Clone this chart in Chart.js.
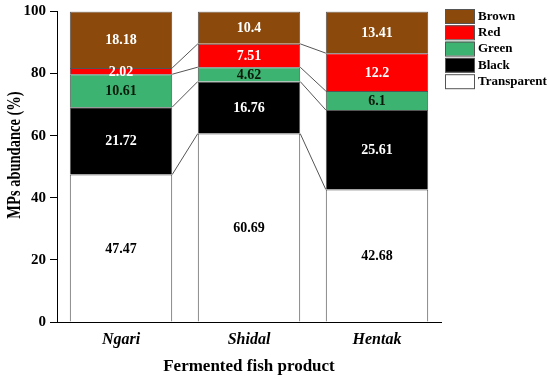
<!DOCTYPE html>
<html>
<head>
<meta charset="utf-8">
<script src="https://cdn.jsdelivr.net/npm/chart.js@4"></script>
<style>
  html, body { margin: 0; padding: 0; background: #fff; }
  #wrap { width: 550px; height: 377px; }
</style>
</head>
<body>
<div id="wrap"><canvas id="myChart" width="550" height="377"></canvas></div>
<script>
const labels = ['Ngari', 'Shidal', 'Hentak'];
const transparent = [47.47, 60.69, 42.68];
const black = [21.72, 16.76, 25.61];
const green = [10.61, 4.62, 6.1];
const red = [2.02, 7.51, 12.2];
const brown = [18.18, 10.4, 13.41];
const yTicks = [0, 20, 40, 60, 80, 100];

const FONT = "'Liberation Serif', 'Times New Roman', serif";

const data = {
    labels: labels,
    datasets: [
        { label: 'Transparent', data: transparent, backgroundColor: '#ffffff', textColor: '#000000' },
        { label: 'Black', data: black, backgroundColor: '#000000', textColor: '#ffffff' },
        { label: 'Green', data: green, backgroundColor: '#3cb371', textColor: '#0a1a0a' },
        { label: 'Red', data: red, backgroundColor: '#ff0000', textColor: '#ffffff' },
        { label: 'Brown', data: brown, backgroundColor: '#8b4a0c', textColor: '#ffffff' },
    ]
};

// lines joining matching segment tops between neighbouring bars, value labels, legend
const segmentPlugin = {
    id: 'segments',
    afterDatasetsDraw(chart) {
        const ctx = chart.ctx;
        ctx.save();
        ctx.strokeStyle = '#555555';
        ctx.lineWidth = 1;
        for (let d = 0; d < chart.data.datasets.length - 1; d++) {
            const meta = chart.getDatasetMeta(d);
            for (let i = 0; i < meta.data.length - 1; i++) {
                const a = meta.data[i], b = meta.data[i + 1];
                ctx.beginPath();
                ctx.moveTo(a.x + a.width / 2, a.y);
                ctx.lineTo(b.x - b.width / 2, b.y);
                ctx.stroke();
            }
        }
        ctx.font = 'bold 14px ' + FONT;
        ctx.textAlign = 'center';
        ctx.textBaseline = 'middle';
        chart.data.datasets.forEach((ds, d) => {
            const meta = chart.getDatasetMeta(d);
            meta.data.forEach((bar, i) => {
                ctx.fillStyle = ds.textColor;
                ctx.fillText(String(ds.data[i]), bar.x, (bar.y + bar.base) / 2 + 1);
            });
        });
        ctx.restore();
    },
    afterDraw(chart) {
        const ctx = chart.ctx;
        ctx.save();
        // legend
        ctx.font = 'bold 13px ' + FONT;
        ctx.textBaseline = 'middle';
        ctx.textAlign = 'left';
        const items = chart.data.datasets.slice().reverse();
        items.forEach((ds, k) => {
            const y = 9 + k * 16.3;
            ctx.fillStyle = ds.backgroundColor;
            ctx.fillRect(445.5, y, 29, 14);
            ctx.strokeStyle = '#555555';
            ctx.lineWidth = 1;
            ctx.strokeRect(445.5, y + 0.5, 29, 14);
            ctx.fillStyle = '#000000';
            ctx.fillText(ds.label, 478, y + 7.5);
        });
        // y axis title (glyphs a bit taller than wide, as in the original)
        ctx.translate(15, 155);
        ctx.rotate(-Math.PI / 2);
        ctx.scale(1, 1.25);
        ctx.font = 'bold 14.5px ' + FONT;
        ctx.textAlign = 'center';
        ctx.fillText('MPs abundance (%)', 0, 0);
        ctx.restore();
    }
};

const config = {
    type: 'bar',
    data: data,
    options: {
        responsive: false,
        animation: false,
        layout: { padding: { top: 10, right: 109, left: 0, bottom: 0 } },
        datasets: {
            bar: {
                borderColor: '#555555',
                borderWidth: 1,
                barPercentage: 0.8,
                categoryPercentage: 1.0,
            }
        },
        plugins: {
            legend: { display: false },
            tooltip: { enabled: false },
            title: { display: false }
        },
        scales: {
            x: {
                stacked: true,
                grid: { display: false },
                border: { display: true, color: '#000000', width: 1 },
                ticks: {
                    color: '#000000',
                    padding: 0,
                    font: { family: FONT, size: 16, weight: 'bold', style: 'italic' }
                },
                title: {
                    display: true,
                    text: 'Fermented fish product',
                    color: '#000000',
                    padding: { top: 7, bottom: 0 },
                    font: { family: FONT, size: 17, weight: 'bold' }
                },
                afterFit(scale) { scale.height = 55; }
            },
            y: {
                stacked: true,
                min: 0,
                max: 100,
                afterBuildTicks(scale) { scale.ticks = yTicks.map(v => ({ value: v })); },
                grid: { drawOnChartArea: false, drawTicks: true, tickLength: 7, color: '#000000' },
                border: { display: true, color: '#000000', width: 1 },
                ticks: {
                    color: '#000000',
                    padding: 4,
                    font: { family: FONT, size: 15, weight: 'bold', lineHeight: 1.0 }
                },
                afterFit(scale) { scale.width = 57; }
            }
        }
    },
    plugins: [segmentPlugin]
};

const myChart = new Chart(document.getElementById('myChart'), config);
</script>
</body>
</html>
